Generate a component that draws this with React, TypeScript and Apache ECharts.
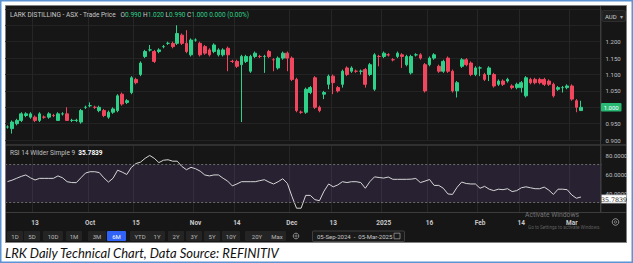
import React, { useEffect, useRef } from 'react';
import * as echarts from 'echarts';

// ---- Data ----
const START_DATE = '2024-09-05';
const END_DATE = '2025-03-05';
const HOLIDAYS = ['2024-12-25', '2024-12-26', '2025-01-01', '2025-01-27'];
const PAD_DATES = ['2025-03-06', '2025-03-07', '2025-03-10', '2025-03-11'];

const TICK_DATES = ['2024-09-13', '2024-10-01', '2024-10-15', '2024-11-01', '2024-11-14', '2024-12-02', '2024-12-13', '2025-01-02', '2025-01-16', '2025-02-03', '2025-02-14', '2025-03-03'];
const TICK_LABELS = ['13', 'Oct', '15', 'Nov', '14', 'Dec', '13', '2025', '16', 'Feb', '14', 'Mar'];

// 1.000 is shown by the last-price badge instead of an axis label
const PRICE_TICKS = [0.9, 0.95, 1.05, 1.1, 1.15, 1.2];
const RSI_TICKS = [40, 60, 80];

// [open, close, low, high]
const OCLH: number[][] = [
  [0.940, 0.940, 0.935, 0.945], [0.935, 0.955, 0.920, 0.960], [0.950, 0.960, 0.945, 0.965], [0.960, 0.980, 0.955, 0.985],
  [0.975, 0.980, 0.970, 0.985], [0.970, 0.980, 0.965, 0.985], [0.970, 0.960, 0.955, 0.975], [0.960, 0.980, 0.955, 0.985],
  [0.970, 0.970, 0.965, 0.975], [0.970, 0.980, 0.965, 0.985], [0.975, 0.975, 0.970, 0.980], [0.960, 0.980, 0.960, 0.985],
  [0.980, 0.980, 0.975, 0.985], [0.980, 0.960, 0.960, 1.000], [0.960, 0.960, 0.955, 0.965], [0.960, 0.960, 0.955, 0.965],
  [0.955, 0.990, 0.950, 0.995], [1.000, 1.000, 0.995, 1.005], [1.005, 1.005, 1.000, 1.015], [1.000, 1.000, 0.995, 1.005],
  [0.990, 1.000, 0.985, 1.005], [0.990, 0.975, 0.970, 0.995], [0.970, 0.985, 0.965, 0.990], [0.985, 0.995, 0.980, 1.000],
  [0.990, 1.035, 0.985, 1.040], [1.040, 1.010, 1.005, 1.045], [1.015, 1.020, 1.010, 1.025], [1.045, 1.090, 1.040, 1.095],
  [1.085, 1.075, 1.070, 1.090], [1.100, 1.135, 1.095, 1.140], [1.155, 1.170, 1.150, 1.175], [1.175, 1.175, 1.170, 1.190],
  [1.170, 1.140, 1.135, 1.175], [1.170, 1.175, 1.165, 1.180], [1.185, 1.185, 1.180, 1.190], [1.195, 1.195, 1.190, 1.200],
  [1.195, 1.185, 1.180, 1.200], [1.195, 1.225, 1.190, 1.250], [1.220, 1.195, 1.190, 1.225], [1.195, 1.170, 1.165, 1.235],
  [1.160, 1.205, 1.155, 1.210], [1.205, 1.205, 1.200, 1.210], [1.195, 1.160, 1.155, 1.200], [1.185, 1.165, 1.160, 1.190],
  [1.175, 1.160, 1.155, 1.180], [1.170, 1.190, 1.165, 1.195], [1.160, 1.175, 1.155, 1.180], [1.160, 1.175, 1.155, 1.180],
  [1.180, 1.160, 1.110, 1.185], [1.140, 1.140, 1.135, 1.145], [1.140, 1.125, 1.120, 1.145], [1.130, 1.155, 0.955, 1.160],
  [1.140, 1.155, 1.135, 1.160], [1.110, 1.155, 1.105, 1.160], [1.155, 1.165, 1.150, 1.170], [1.155, 1.155, 1.150, 1.160],
  [1.155, 1.155, 1.105, 1.160], [1.170, 1.155, 1.150, 1.175], [1.145, 1.145, 1.110, 1.150], [1.120, 1.150, 1.115, 1.155],
  [1.150, 1.165, 1.145, 1.170], [1.165, 1.150, 1.110, 1.170], [1.150, 1.085, 1.080, 1.155], [1.085, 0.990, 0.985, 1.090],
  [0.985, 0.985, 0.980, 0.990], [0.985, 1.055, 0.980, 1.060], [1.045, 1.060, 1.040, 1.065], [1.090, 1.000, 0.995, 1.095],
  [1.000, 0.990, 0.985, 1.005], [1.040, 1.045, 1.025, 1.050], [1.070, 1.095, 1.055, 1.100], [1.095, 1.075, 1.040, 1.100],
  [1.060, 1.050, 1.045, 1.065], [1.070, 1.110, 1.060, 1.115], [1.120, 1.100, 1.095, 1.125], [1.110, 1.120, 1.105, 1.125],
  [1.110, 1.110, 1.105, 1.115], [1.110, 1.110, 1.100, 1.115], [1.115, 1.070, 1.060, 1.120], [1.100, 1.130, 1.095, 1.135],
  [1.055, 1.160, 1.050, 1.165], [1.155, 1.155, 1.125, 1.160], [1.155, 1.165, 1.150, 1.170], [1.160, 1.160, 1.155, 1.165],
  [1.145, 1.145, 1.140, 1.150], [1.155, 1.165, 1.150, 1.170], [1.160, 1.155, 1.120, 1.165], [1.130, 1.155, 1.125, 1.160],
  [1.105, 1.155, 1.100, 1.160], [1.160, 1.160, 1.155, 1.165], [1.160, 1.150, 1.145, 1.165], [1.130, 1.050, 1.045, 1.135],
  [1.130, 1.150, 1.125, 1.155], [1.150, 1.160, 1.145, 1.165], [1.125, 1.110, 1.105, 1.130], [1.110, 1.140, 1.105, 1.145],
  [1.150, 1.110, 1.105, 1.155], [1.110, 1.050, 1.045, 1.115], [1.050, 1.075, 1.030, 1.080], [1.125, 1.145, 1.120, 1.150],
  [1.145, 1.130, 1.125, 1.150], [1.135, 1.100, 1.095, 1.140], [1.100, 1.120, 1.095, 1.125], [1.120, 1.120, 1.095, 1.125],
  [1.100, 1.085, 1.080, 1.105], [1.100, 1.120, 1.080, 1.125], [1.100, 1.065, 1.060, 1.105], [1.070, 1.080, 1.065, 1.085],
  [1.080, 1.070, 1.065, 1.085], [1.080, 1.085, 1.075, 1.090], [1.065, 1.060, 1.055, 1.070], [1.060, 1.070, 1.055, 1.075],
  [1.060, 1.075, 1.045, 1.080], [1.035, 1.090, 1.030, 1.095], [1.085, 1.075, 1.070, 1.090], [1.085, 1.075, 1.070, 1.090],
  [1.085, 1.075, 1.070, 1.090], [1.085, 1.070, 1.065, 1.090], [1.080, 1.070, 1.065, 1.085], [1.070, 1.035, 1.030, 1.075],
  [1.055, 1.060, 1.050, 1.065], [1.060, 1.060, 1.045, 1.065], [1.060, 1.065, 1.055, 1.070], [1.065, 1.025, 1.020, 1.070],
  [1.020, 1.000, 0.985, 1.025], [0.990, 1.000, 0.990, 1.020],
];

const RSI: number[] = [
  52, 53.5, 55.5, 57.5, 59, 56, 53.7, 55.4, 55.4, 55.4, 55.4, 58, 56, 51.9, 51, 50.9,
  56, 61, 62.4, 62.4, 61.5, 56, 51.5, 55.5, 64, 62, 59.5, 67, 71, 72.5, 76.5, 79.5,
  76.5, 72, 74.5, 75, 73.5, 73.5, 68, 64.5, 67, 65.5, 63, 59, 58, 59, 59, 55.5,
  52.5, 47.5, 49.5, 51.9, 51.9, 51.9, 51.9, 53, 54, 51.5, 49.5, 51.9, 55, 50.2, 36.5, 24,
  24, 37.5, 37.5, 33, 31.9, 42, 49.5, 46.5, 48.5, 51.9, 51, 51.9, 51.9, 51, 45, 52,
  57, 56.3, 55.7, 56.8, 54.4, 54.4, 54.4, 54.4, 54.6, 55.3, 51, 52.5, 54.2, 48, 48, 45,
  39, 38.5, 46, 51.5, 50, 49.5, 49.5, 45, 47, 44, 42.5, 44, 43.5, 44.5, 41.5, 42.5,
  45.5, 46.5, 45.5, 44.5, 44.5, 46.2, 43, 38.5, 44, 44, 43.5, 37.9, 34.5, 35.7839,
];

const LAST = { open: '0.990', high: '1.020', low: '0.990', close: '1.000', chg: '0.000 (0.00%)' };
const RSI_LAST = '35.7839';
const RANGE_BUTTONS = ['1D', '5D', '10D', '1M', '3M', '6M', 'YTD', '1Y', '2Y', '3Y', '5Y', '10Y', '20Y', 'Max'];
const ACTIVE_BUTTON = '6M';

function tradingDays(start: string, end: string, holidays: string[]): string[] {
  const out: string[] = [];
  const d = new Date(start + 'T00:00:00Z');
  const e = new Date(end + 'T00:00:00Z');
  while (d <= e) {
    const wd = d.getUTCDay();
    const s = d.toISOString().slice(0, 10);
    if (wd !== 0 && wd !== 6 && !holidays.includes(s)) out.push(s);
    d.setUTCDate(d.getUTCDate() + 1);
  }
  return out;
}

const GREEN = '#2fd08a';
const RED = '#f2465f';
const FONT = 'Roboto, Arial, sans-serif';

export default function App() {
  const ref = useRef<HTMLDivElement>(null);

  useEffect(() => {
    if (!ref.current) return;
    const chart = echarts.init(ref.current, undefined, { renderer: 'svg' });
    const dates = tradingDays(START_DATE, END_DATE, HOLIDAYS);
    const cats = [...dates, ...PAD_DATES];
    const isTick = (_i: number, v: string) => TICK_DATES.includes(v);

    const gridLeft = 5.2;
    const gridRightX = 601.6;

    const btnCenters = [15, 32, 53, 74, 97, 116.5, 140, 157, 176, 194, 212, 231, 257, 277];
    const btnWidths = [16, 16, 20, 16, 18, 19, 20, 16, 16, 16, 16, 18, 24, 18];
    const buttons: any[] = [];
    RANGE_BUTTONS.forEach((b, i) => {
      const active = b === ACTIVE_BUTTON;
      buttons.push({
        type: 'rect', z: 5,
        shape: { x: btnCenters[i] - btnWidths[i] / 2, y: 231, width: btnWidths[i], height: 10, r: 1 },
        style: { fill: active ? '#2f62f5' : '#242424' },
      });
      buttons.push({
        type: 'text', z: 6, x: btnCenters[i], y: 236.2,
        style: { text: b, fill: active ? '#ffffff' : '#b8b8b8', fontSize: 6, fontFamily: FONT, align: 'center', verticalAlign: 'middle' },
      });
    });

    const option: any = {
      animation: false,
      backgroundColor: '#ffffff',
      textStyle: { fontFamily: FONT },
      grid: [
        { left: gridLeft, right: 633 - gridRightX, top: 8.9, height: 131.2 },
        { left: gridLeft, right: 633 - gridRightX, top: 145.5, height: 66.5 },
      ],
      xAxis: [
        {
          type: 'category', gridIndex: 0, data: cats, boundaryGap: true,
          axisLine: { show: false }, axisTick: { show: false }, axisLabel: { show: false },
          splitLine: { show: true, interval: isTick, lineStyle: { color: '#262626', width: 1 } },
        },
        {
          type: 'category', gridIndex: 1, data: cats, boundaryGap: true,
          axisLine: { show: false }, axisTick: { show: false },
          axisLabel: {
            show: true, interval: isTick, margin: 7, color: '#c8c8c8', fontSize: 6.5, fontWeight: 'bold', fontFamily: FONT,
            formatter: (v: string) => { const k = TICK_DATES.indexOf(v); return k >= 0 ? TICK_LABELS[k] : ''; },
          },
          splitLine: { show: true, interval: isTick, lineStyle: { color: '#262626', width: 1 } },
        },
      ],
      yAxis: [
        {
          type: 'value', gridIndex: 0, position: 'right', min: 0.9, max: 1.3, interval: 0.05,
          axisLine: { show: false }, axisTick: { show: false },
          axisLabel: {
            color: '#c0c0c0', fontSize: 6, margin: 4, fontFamily: FONT,
            formatter: (v: number) => PRICE_TICKS.some((t) => Math.abs(t - v) < 1e-6) ? v.toFixed(3) : '',
          },
          splitLine: { show: true, lineStyle: { color: '#232323', width: 1 } },
        },
        {
          type: 'value', gridIndex: 1, position: 'right', min: 20, max: 90, interval: 20,
          axisLine: { show: false }, axisTick: { show: false },
          axisLabel: {
            color: '#c0c0c0', fontSize: 6, margin: 4, fontFamily: FONT,
            formatter: (v: number) => RSI_TICKS.includes(v) ? v.toFixed(4) : '',
          },
          splitLine: { show: false },
        },
      ],
      series: [
        {
          type: 'candlestick', xAxisIndex: 0, yAxisIndex: 0, data: OCLH, barWidth: 3.2,
          itemStyle: { color: GREEN, color0: RED, borderColor: GREEN, borderColor0: RED, borderWidth: 1 },
        },
        {
          type: 'line', xAxisIndex: 1, yAxisIndex: 1, data: RSI, symbol: 'none',
          lineStyle: { color: '#d6d6d6', width: 1 },
          markArea: { silent: true, itemStyle: { color: 'rgba(110, 80, 160, 0.2)' }, data: [[{ yAxis: 30 }, { yAxis: 70 }]] },
          markLine: {
            silent: true, symbol: 'none', label: { show: false },
            lineStyle: { type: [2, 2], color: '#6a6a6a', width: 1 },
            data: [{ yAxis: 70 }, { yAxis: 30 }],
          },
        },
      ],
      graphic: [
        // outer frame
        { type: 'rect', z: -20, shape: { x: 0.75, y: 0.75, width: 631.5, height: 261.5 }, style: { fill: '#ffffff', stroke: '#5b93d3', lineWidth: 1.5 } },
        // dark panel
        { type: 'rect', z: -10, shape: { x: 5.5, y: 5.5, width: 621, height: 237 }, style: { fill: '#161616', stroke: '#808080', lineWidth: 1 } },
        // separators
        { type: 'line', z: 4, shape: { x1: 6, y1: 145, x2: 626, y2: 145 }, style: { stroke: '#4a4a4a', lineWidth: 1 } },
        { type: 'line', z: 4, shape: { x1: 6, y1: 212.5, x2: 626, y2: 212.5 }, style: { stroke: '#3c3c3c', lineWidth: 1 } },
        { type: 'line', z: 4, shape: { x1: 600.5, y1: 6, x2: 600.5, y2: 212.5 }, style: { stroke: '#3c3c3c', lineWidth: 1 } },
        // title
        {
          type: 'text', z: 10, x: 10, y: 15,
          style: {
            text: `{w|LARK DISTILLING - ASX - Trade Price   O}{g|${LAST.open}} {w|H}{g|${LAST.high}} {w|L}{g|${LAST.low}} {w|C}{g|${LAST.close}} {g|${LAST.chg}}`,
            verticalAlign: 'middle', fontSize: 6.5, fontFamily: FONT,
            rich: { w: { fill: '#c8c8c8', fontSize: 6.5, fontFamily: FONT }, g: { fill: GREEN, fontSize: 6.5, fontFamily: FONT } },
          },
        },
        // AUD box
        { type: 'rect', z: 10, shape: { x: 602, y: 10.5, width: 23.5, height: 11, r: 1.5 }, style: { fill: '#202020', stroke: '#333333', lineWidth: 0.8 } },
        { type: 'text', z: 11, x: 605, y: 16, style: { text: 'AUD', fill: '#d0d0d0', fontSize: 6, fontFamily: FONT, verticalAlign: 'middle' } },
        { type: 'text', z: 11, x: 620, y: 16, style: { text: '▾', fill: '#aaaaaa', fontSize: 6, fontFamily: FONT, verticalAlign: 'middle' } },
        // last price badge
        { type: 'rect', z: 20, shape: { x: 601, y: 103, width: 20.5, height: 8.6, r: 1 }, style: { fill: '#27b874' } },
        { type: 'text', z: 21, x: 611.2, y: 107.4, style: { text: LAST.close, fill: '#ffffff', fontSize: 6, fontFamily: FONT, align: 'center', verticalAlign: 'middle' } },
        // RSI label
        {
          type: 'text', z: 10, x: 10, y: 153,
          style: {
            text: `{w|RSI 14 Wilder Simple 9}  {b|${RSI_LAST}}`, verticalAlign: 'middle', fontSize: 6.5, fontFamily: FONT,
            rich: { w: { fill: '#c0c0c0', fontSize: 6.5, fontFamily: FONT }, b: { fill: '#ffffff', fontSize: 6.5, fontWeight: 'bold', fontFamily: FONT } },
          },
        },
        // RSI badge
        { type: 'rect', z: 20, shape: { x: 601.5, y: 194.8, width: 25, height: 8.4 }, style: { fill: '#ffffff', stroke: '#888888', lineWidth: 0.6 } },
        { type: 'text', z: 21, x: 614, y: 199, style: { text: RSI_LAST, fill: '#111111', fontSize: 6.3, fontFamily: 'DejaVu Serif, serif', align: 'center', verticalAlign: 'middle' } },
        // watermark
        { type: 'text', z: 12, x: 525, y: 214.8, style: { text: 'Activate Windows', fill: 'rgba(150,150,150,0.75)', fontSize: 6.8, fontFamily: FONT, verticalAlign: 'middle' } },
        { type: 'text', z: 12, x: 528, y: 227.6, style: { text: 'Go to Settings to activate Windows.', fill: 'rgba(130,130,130,0.7)', fontSize: 4.6, fontFamily: FONT, verticalAlign: 'middle' } },
        // gear bottom-right
        { type: 'circle', z: 10, shape: { cx: 615.5, cy: 222, r: 3.3 }, style: { fill: 'none', stroke: '#9a9a9a', lineWidth: 0.9 } },
        { type: 'circle', z: 10, shape: { cx: 615.5, cy: 222, r: 1.2 }, style: { fill: 'none', stroke: '#9a9a9a', lineWidth: 0.8 } },
        // range buttons
        ...buttons,
        { type: 'circle', z: 10, shape: { cx: 296, cy: 236, r: 2.8 }, style: { fill: 'none', stroke: '#9a9a9a', lineWidth: 0.9 } },
        { type: 'circle', z: 10, shape: { cx: 296, cy: 236, r: 1 }, style: { fill: 'none', stroke: '#9a9a9a', lineWidth: 0.7 } },
        // date range box
        { type: 'rect', z: 10, shape: { x: 312.5, y: 231, width: 92, height: 10.5, r: 1 }, style: { fill: '#1a1a1a', stroke: '#4a4a4a', lineWidth: 0.8 } },
        { type: 'text', z: 11, x: 317, y: 236.3, style: { text: '05-Sep-2024  -  05-Mar-2025', fill: '#c8c8c8', fontSize: 6, fontFamily: FONT, verticalAlign: 'middle' } },
        { type: 'rect', z: 11, shape: { x: 394, y: 233.2, width: 6, height: 5.6 }, style: { fill: 'none', stroke: '#aaaaaa', lineWidth: 0.7 } },
        // caption
        {
          type: 'text', z: 10, x: 5, y: 252.5,
          style: { text: 'LRK Daily Technical Chart, Data Source: REFINITIV', fill: '#111111', fontSize: 13, fontStyle: 'italic', fontFamily: 'Lato, sans-serif', verticalAlign: 'middle' },
        },
      ],
    };
    chart.setOption(option);
    return () => chart.dispose();
  }, []);

  return <div ref={ref} style={{ position: 'absolute', left: 0, top: 0, width: 633, height: 263 }} />;
}
